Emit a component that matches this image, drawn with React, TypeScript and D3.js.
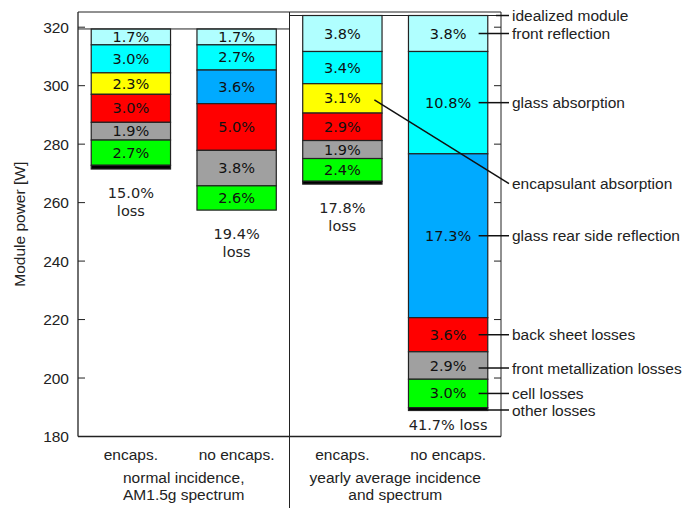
import * as d3 from 'd3'

// loss categories, top to bottom in each bar
const lossKeys = [
  'front reflection',
  'glass absorption',
  'encapsulant absorption',
  'glass rear side reflection',
  'back sheet losses',
  'front metallization losses',
  'cell losses',
]
const lossColors = ['#b0ffff', '#00ffff', '#ffff00', '#00aaff', '#ff0000', '#a0a0a0', '#00ff00']
const otherColor = '#000000'

const barLabels = ['encaps.', 'no encaps.', 'encaps.', 'no encaps.']
const barCondition = [0, 0, 1, 1]
const conditionLabels = [
  ['normal incidence,', 'AM1.5g spectrum'],
  ['yearly average incidence', 'and spectrum'],
]
const idealPower = [319.4, 324.0] // W, per condition

// losses in % of idealized module power (0 = not present)
const lossValues = [
  [1.7, 3.0, 2.3, 0, 3.0, 1.9, 2.7],
  [1.7, 2.7, 0, 3.6, 5.0, 3.8, 2.6],
  [3.8, 3.4, 3.1, 0, 2.9, 1.9, 2.4],
  [3.8, 10.8, 0, 17.3, 3.6, 2.9, 3.0],
]
const totalLoss = [15.0, 19.4, 17.8, 41.7]

const yTicks = [180, 200, 220, 240, 260, 280, 300, 320]
const yDomain: [number, number] = [180, 325.2]

const W = 694
const H = 508
const margin = { left: 78, right: 193, top: 12, bottom: 72 }
const sans = '"Liberation Sans", Arial, sans-serif'
const dejavu = '"DejaVu Sans", sans-serif'
const fs = 15.5

interface Seg {
  key: string
  color: string
  pct: number
  y0: number
  y1: number
}

export default function App() {
  const x0 = margin.left
  const x1 = W - margin.right
  const yB = H - margin.bottom + 0.5
  const y = d3.scaleLinear().domain(yDomain).range([yB, margin.top])
  const x = d3
    .scaleBand<number>()
    .domain(d3.range(barLabels.length))
    .range([x0, x1])
    .paddingInner(0.25)
    .paddingOuter(0.125)
  const bw = x.bandwidth()
  const cx = (i: number) => (x(i) as number) + bw / 2
  const divX = (cx(1) + cx(2)) / 2

  // build stacked segments (in watts) from the percentages
  const bars = lossValues.map((vals, i) => {
    const p0 = idealPower[barCondition[i]]
    let top = p0
    const segs: Seg[] = []
    vals.forEach((v, k) => {
      if (v <= 0) return
      const w = (p0 * v) / 100
      segs.push({ key: lossKeys[k], color: lossColors[k], pct: v, y0: top - w, y1: top })
      top -= w
    })
    const other = totalLoss[i] - d3.sum(vals)
    const wo = (p0 * Math.max(other, 0)) / 100
    segs.push({ key: 'other losses', color: otherColor, pct: other, y0: top - wo, y1: top })
    return { segs, bottom: top - wo, top: p0 }
  })

  const seg = (b: number, key: string) => bars[b].segs.find(s => s.key === key) as Seg
  const mid = (s: Seg) => (y(s.y0) + y(s.y1)) / 2

  const annX = x1 + 11
  const fromX = cx(3) + 30.5
  const bar4 = 3
  const annotations = [
    { label: 'idealized module', ly: y(idealPower[1]), sx: x1 - 5, sy: y(idealPower[1]) },
    { label: 'front reflection', ly: mid(seg(bar4, 'front reflection')), sx: fromX },
    { label: 'glass absorption', ly: mid(seg(bar4, 'glass absorption')), sx: fromX },
    {
      label: 'encapsulant absorption',
      ly: y(266.5),
      sx: cx(2) + 32,
      sy: mid(seg(2, 'encapsulant absorption')) + 1.5,
    },
    { label: 'glass rear side reflection', ly: mid(seg(bar4, 'glass rear side reflection')), sx: fromX },
    { label: 'back sheet losses', ly: mid(seg(bar4, 'back sheet losses')), sx: fromX },
    { label: 'front metallization losses', ly: mid(seg(bar4, 'front metallization losses')) + 2.5, sx: fromX },
    { label: 'cell losses', ly: mid(seg(bar4, 'cell losses')), sx: fromX },
    { label: 'other losses', ly: y(bars[bar4].bottom) - 0.5, sx: (x(3) as number) + bw },
  ]

  return (
    <svg width={W} height={H} style={{ position: 'absolute', left: 0, top: 0, background: '#fff' }}>
      {/* bars */}
      {bars.map((b, i) => (
        <g key={i}>
          {b.segs.map((s, k) => (
            <rect
              key={k}
              x={x(i)}
              y={y(s.y1)}
              width={bw}
              height={Math.max(y(s.y0) - y(s.y1), 0)}
              fill={s.color}
              stroke="#222"
              strokeWidth={1.2}
            />
          ))}
          {b.segs
            .filter(s => s.key !== 'other losses')
            .map((s, k) => (
              <text
                key={'t' + k}
                x={cx(i)}
                y={mid(s) + 5}
                textAnchor="middle"
                fontFamily={dejavu}
                fontSize={14.5}
                fill="#111"
              >
                {s.pct.toFixed(1)}%
              </text>
            ))}
          {i < 3 ? (
            <text textAnchor="middle" fontFamily={dejavu} fontSize={14.5} fill="#222">
              <tspan x={cx(i)} y={y(b.bottom) + 29}>
                {totalLoss[i].toFixed(1)}%
              </tspan>
              <tspan x={cx(i)} y={y(b.bottom) + 47}>
                loss
              </tspan>
            </text>
          ) : (
            <text x={cx(i)} y={y(b.bottom) + 19} textAnchor="middle" fontFamily={dejavu} fontSize={14.5} fill="#222">
              {totalLoss[i].toFixed(1)}% loss
            </text>
          )}
        </g>
      ))}

      {/* frame */}
      <line x1={x0} x2={x1} y1={margin.top} y2={margin.top} stroke="#222" />
      <line x1={x0} x2={x1} y1={yB} y2={yB} stroke="#222" strokeWidth={1.3} />
      <line x1={x0} x2={x0} y1={margin.top} y2={yB} stroke="#222" strokeWidth={1.3} />
      <line x1={x1} x2={x1} y1={margin.top} y2={yB} stroke="#222" />
      <line x1={divX} x2={divX} y1={margin.top} y2={H} stroke="#222" />
      <line x1={x0} x2={divX} y1={y(idealPower[0])} y2={y(idealPower[0])} stroke="#222" />
      <line x1={divX} x2={x1} y1={y(idealPower[1])} y2={y(idealPower[1])} stroke="#222" />

      {/* y ticks */}
      {yTicks.map(t => (
        <g key={t}>
          <line x1={x0} x2={x0 + 7} y1={y(t)} y2={y(t)} stroke="#222" />
          <line x1={x1 - 7} x2={x1} y1={y(t)} y2={y(t)} stroke="#222" />
          <text x={x0 - 9} y={y(t) + 5.5} textAnchor="end" fontFamily={sans} fontSize={fs} fill="#222">
            {t}
          </text>
        </g>
      ))}
      <text
        transform={`translate(25,${(margin.top + yB) / 2}) rotate(-90)`}
        textAnchor="middle"
        fontFamily={sans}
        fontSize={fs}
        fill="#222"
      >
        Module power [W]
      </text>

      {/* x labels */}
      {barLabels.map((l, i) => (
        <text key={i} x={cx(i)} y={yB + 23} textAnchor="middle" fontFamily={sans} fontSize={fs} fill="#222">
          {l}
        </text>
      ))}
      {conditionLabels.map((lines, c) => {
        const gx = (cx(c * 2) + cx(c * 2 + 1)) / 2
        return (
          <text key={c} textAnchor="middle" fontFamily={sans} fontSize={fs} fill="#222">
            {lines.map((ln, j) => (
              <tspan key={j} x={gx} y={yB + 46 + j * 17.5}>
                {ln}
              </tspan>
            ))}
          </text>
        )
      })}

      {/* annotations */}
      {annotations.map((a, i) => (
        <g key={i}>
          <line
            x1={a.sx}
            y1={a.sy ?? a.ly}
            x2={annX - 3}
            y2={a.ly}
            stroke="#111"
            strokeWidth={1.5}
          />
          <text x={annX} y={a.ly + 5.5} fontFamily={sans} fontSize={fs} fill="#222">
            {a.label}
          </text>
        </g>
      ))}
    </svg>
  )
}
